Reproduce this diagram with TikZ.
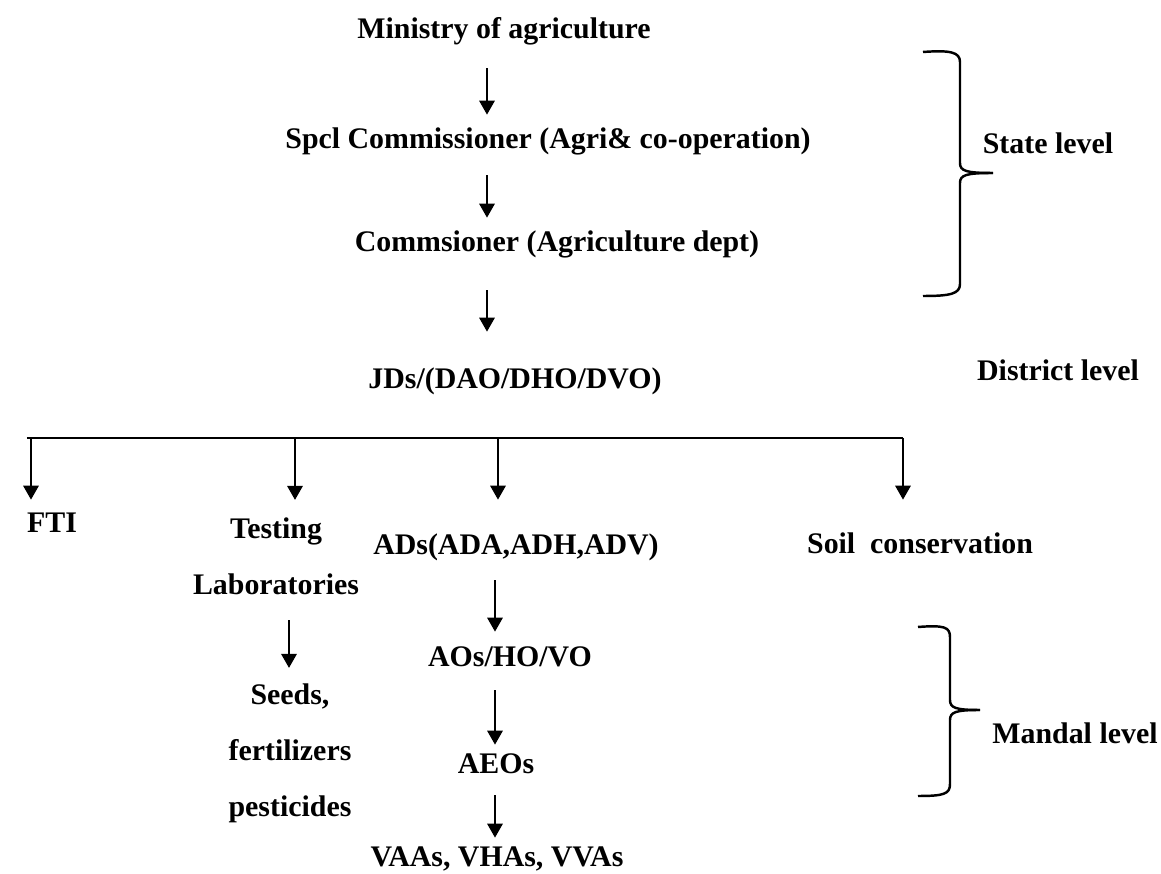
\documentclass[tikz,border=0pt]{standalone}
\usepackage{fontspec}
\setmainfont{Liberation Serif}
\usetikzlibrary{arrows.meta}
\tikzset{
  lbl/.style={font=\bfseries\fontsize{8.5}{15.9}\selectfont, inner sep=0pt, text height=6.5pt, text depth=1.8pt},
  stack/.style={font=\bfseries\fontsize{8.5}{15.9}\selectfont, inner sep=0pt, align=center, anchor=north},
  arr/.style={line width=0.8pt, -{Triangle[length=4pt,width=4.3pt]}},
  brace/.style={line width=0.7pt}
}
\begin{document}
\begin{tikzpicture}[x=0.1mm,y=-0.1mm]
  \useasboundingbox (0,0) rectangle (1161,874);
  %state level
  \node[lbl] (min) at (504,30) {Ministry of agriculture};
  \node[lbl] (spcl) at (548,140) {Spcl Commissioner (Agri\& co-operation)};
  \node[lbl] (comm) at (557,243) {Commsioner (Agriculture dept)};
  \node[lbl] (jds) at (515,380) {JDs/(DAO/DHO/DVO)};
  \coordinate (spine) at (487,0);
  \draw[arr, shorten <=2.3mm, shorten >=1.0mm] (min.south -| spine) -- (spcl.north -| spine);
  \draw[arr, shorten <=2.0mm, shorten >=1.0mm] (spcl.south -| spine) -- (comm.north -| spine);
  \draw[arr, shorten <=3.2mm, shorten >=3.3mm] (comm.south -| spine) -- (jds.north -| spine);
  %district level
  \node[lbl] (fti) at (52,524) {FTI};
  \node[stack] (testlab) at (276,517) {Testing\\Laboratories};
  \node[lbl] (ads) at (516,546) {ADs(ADA,ADH,ADV)};
  \node[lbl] (soil) at (920,545) {Soil~ conservation};
  \coordinate (busL) at (27,438);
  \coordinate (busR) at (903,438);
  \draw[line width=0.5pt] (busL) -- (busR);
  \coordinate (b1) at (31,438);
  \coordinate (b2) at (295,438);
  \coordinate (b3) at (498,438);
  \coordinate (b4) at (903,438);
  \foreach \b/\n/\s in {b1/fti/0.9mm, b2/testlab/1.7mm, b3/ads/3.1mm, b4/soil/3.0mm}
    \draw[arr, shorten >=\s] (\b) -- (\b |- \n.north);
  %mandal level
  \node[stack] (seeds) at (290,683) {Seeds,\\fertilizers\\pesticides};
  \node[lbl] (aos) at (510,658) {AOs/HO/VO};
  \node[lbl] (aeos) at (496,765) {AEOs};
  \node[lbl] (vaas) at (497,858) {VAAs, VHAs, VVAs};
  \coordinate (lab) at (289,0);
  \draw[arr, shorten <=2.5mm, shorten >=1.5mm] (testlab.south -| lab) -- (seeds.north -| lab);
  \coordinate (lane) at (495,0);
  \draw[arr, shorten <=1.9mm, shorten >=1.1mm] (ads.south -| lane) -- (aos.north -| lane);
  \draw[arr, shorten <=1.7mm, shorten >=0.5mm] (aos.south -| lane) -- (aeos.north -| lane);
  \draw[arr, shorten <=1.5mm, shorten >=0.5mm] (aeos.south -| lane) -- (vaas.north -| lane);
  %parentesi
  \draw[brace] (923,52) .. controls (950,50) and (960,52) .. (960,62) -- (960,163)
    .. controls (960,171) and (966,173) .. (993,173);
  \draw[brace] (993,173) .. controls (966,173) and (960,175) .. (960,183) -- (960,284)
    .. controls (960,294) and (950,296) .. (923,296);
  \draw[brace] (918,627) .. controls (944,625) and (950,627) .. (950,637) -- (950,700)
    .. controls (950,708) and (956,710) .. (980,710);
  \draw[brace] (980,710) .. controls (956,710) and (950,712) .. (950,720) -- (950,784)
    .. controls (950,794) and (944,796) .. (918,796);
  \node[lbl] (state) at (1048,145) {State level};
  \node[lbl] (district) at (1058,372) {District level};
  \node[lbl] (mandal) at (1075,735) {Mandal level};
\end{tikzpicture}
\end{document}
